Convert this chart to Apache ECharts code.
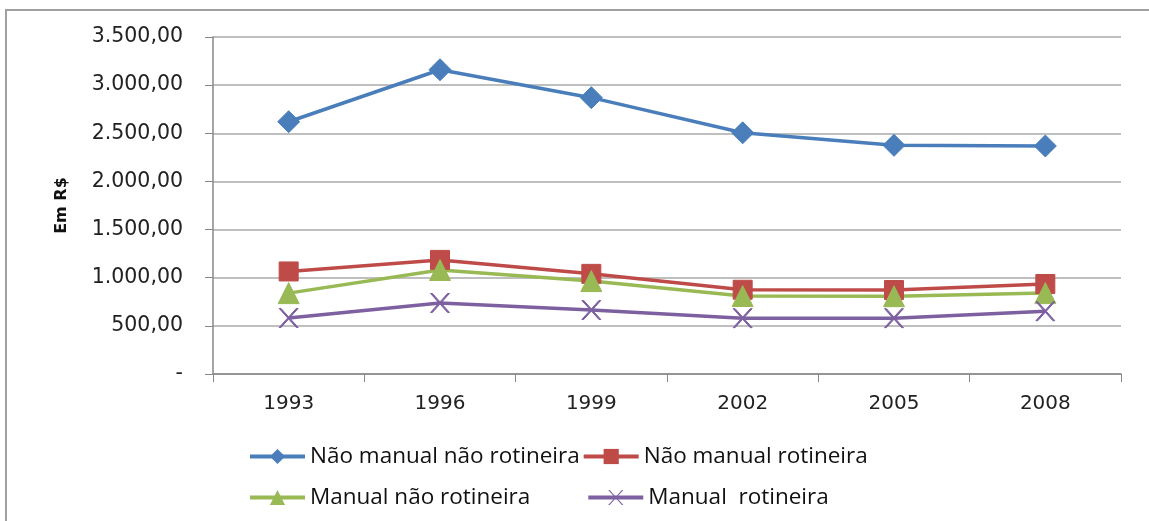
<!DOCTYPE html>
<html lang="pt">
<head>
  <meta charset="UTF-8">
  <title>Em R$</title>
  <style>
    html, body { margin: 0; padding: 0; background: #fff; }
    #main { width: 1149px; height: 521px; }
  </style>
</head>
<body>
<div id="main"></div>
<script src="https://cdn.jsdelivr.net/npm/echarts@6/dist/echarts.min.js"></script>
<script>
  // dados
  const anos = ['1993', '1996', '1999', '2002', '2005', '2008'];
  const naoManualNaoRot = [2620, 3160, 2870, 2505, 2375, 2368];
  const naoManualRot = [1065, 1185, 1040, 875, 872, 935];
  const manualNaoRot = [840, 1080, 965, 810, 808, 840];
  const manualRot = [582, 738, 665, 580, 580, 652];

  const xPath = 'path://M0,0 L2,0 L10,8 L18,0 L20,0 L11,9 L20,18 L18,18 L10,10 L2,18 L0,18 L9,9 Z';

  function fmt(v) {
    if (v === 0) return '-';
    let s = v.toFixed(2).replace('.', ',');
    let [i, d] = s.split(',');
    i = i.replace(/\B(?=(\d{3})+(?!\d))/g, '.');
    return i + ',' + d;
  }

  let chart = echarts.init(document.getElementById('main'));
  const font = 'DejaVu Sans';
  const legendFont = { fontFamily: 'Open Sans', fontSize: 22.5, color: '#111' };

  function serie(name, data, color, symbol, size) {
    return {
      name: name,
      type: 'line',
      data: data,
      symbol: symbol,
      symbolSize: size,
      lineStyle: { color: color, width: 3.5 },
      itemStyle: { color: color, borderColor: color },
      z: 3
    };
  }

  let option = {
    animation: false,
    graphic: [{
      type: 'rect',
      shape: { x: 6, y: 10, width: 1160, height: 540 },
      style: { fill: 'none', stroke: '#a0a0a0', lineWidth: 2 },
      silent: true
    }],
    grid: { left: 213, right: 28, top: 37, bottom: 147 },
    legend: [{
      top: 440,
      left: 243,
      itemWidth: 55,
      itemHeight: 19,
      itemGap: 2,
      textStyle: legendFont,
      lineStyle: { width: 4 },
      data: ['Não manual não rotineira', 'Não manual rotineira']
    }, {
      top: 481,
      left: 243,
      itemWidth: 55,
      itemHeight: 19,
      itemGap: 56,
      textStyle: legendFont,
      lineStyle: { width: 4 },
      data: ['Manual não rotineira', 'Manual  rotineira']
    }],
    xAxis: {
      type: 'category',
      data: anos,
      boundaryGap: true,
      axisLine: { lineStyle: { color: '#888', width: 1.5 } },
      axisTick: { show: true, length: 8, lineStyle: { color: '#888' } },
      axisLabel: { fontFamily: font, fontSize: 20, color: '#222', margin: 20 }
    },
    yAxis: {
      type: 'value',
      min: 0,
      max: 3500,
      interval: 500,
      name: 'Em R$',
      nameLocation: 'middle',
      nameGap: 143,
      nameRotate: 90,
      nameTextStyle: { fontFamily: font, fontSize: 16, fontWeight: 'bold', color: '#111' },
      axisLine: { show: true, lineStyle: { color: '#888', width: 1.5 } },
      axisTick: { show: true, length: 8, lineStyle: { color: '#888' } },
      axisLabel: { fontFamily: font, fontSize: 20.5, color: '#222', margin: 30, formatter: fmt },
      splitLine: { lineStyle: { color: '#aaa', width: 1.5 } }
    },
    series: [
      serie('Não manual não rotineira', naoManualNaoRot, '#4a7ebb', 'diamond', 22),
      serie('Não manual rotineira', naoManualRot, '#be4b48', 'rect', 19),
      serie('Manual não rotineira', manualNaoRot, '#98b954', 'triangle', 21),
      serie('Manual  rotineira', manualRot, '#7d60a0', xPath, 19)
    ]
  };
  chart.setOption(option);
</script>
</body>
</html>
